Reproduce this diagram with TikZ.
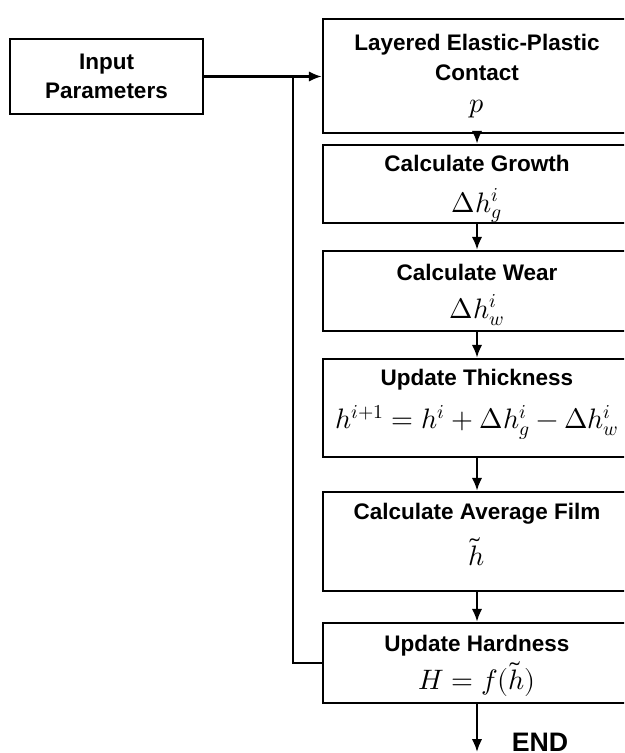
\documentclass[tikz,border=0pt]{standalone}
\usepackage{amsmath}
\usepackage{fontspec}
\usepackage{unicode-math}
\setsansfont{Liberation Sans}
\setmathfont{Latin Modern Math}
\usetikzlibrary{arrows.meta}

\newcommand{\bigmath}[1]{{\fontsize{20}{22}\selectfont$#1$}}

\begin{document}
\begin{tikzpicture}[
    x=0.025cm, y=-0.025cm,
    box/.style={draw, line width=1.8pt, align=center, inner sep=0pt,
        font=\sffamily\bfseries\fontsize{16}{21}\selectfont},
    step box/.style={box, minimum width=7.7cm},
    flow/.style={line width=1.6pt, -{Latex[length=3.2mm, width=2.6mm]}},
    link/.style={line width=1.8pt}
]

\useasboundingbox (0,0) rectangle (624,753);
\clip (0,0) rectangle (624,753);

% Input
\node[box, minimum width=4.825cm, minimum height=1.875cm] (input) at (106.5,76.5)
    {Input\\Parameters};

% Loop boxes
\node[step box, minimum height=2.85cm] (contact) at (477,76)
    {Layered Elastic-Plastic\\Contact\\[2pt]\bigmath{p}};
\node[step box, minimum height=1.95cm] (growth) at (477,184)
    {\rule{0pt}{18.7pt}Calculate Growth\\[8pt]\bigmath{\Delta h_g^i}};
\node[step box, minimum height=2.0cm] (wear) at (477,291)
    {\rule{0pt}{16.7pt}Calculate Wear\\[6pt]\bigmath{\Delta h_w^i}};
\node[step box, minimum height=2.45cm] (thickness) at (477,408)
    {Update Thickness\\[10pt]\bigmath{h^{i+1} = h^i + \Delta h_g^i - \Delta h_w^i}\rule[-13pt]{0pt}{13pt}};
\node[step box, minimum height=2.475cm] (average) at (477,541.5)
    {Calculate Average Film\\[8pt]\bigmath{\tilde{h}}\rule[-10pt]{0pt}{10pt}};
\node[step box, minimum height=2.0cm] (hardness) at (477,663)
    {\rule{0pt}{16pt}Update Hardness\\[3pt]\bigmath{H = f(\tilde{h})}};

% End
\coordinate (finish) at (477,752);
\node[font=\sffamily\bfseries\fontsize{19}{22}\selectfont] (endlabel) at (540,742) {END};

% Connectors
\draw[flow] (input.east) -- (input.east -| contact.west);
\draw[flow] (contact.south) -- (growth.north);
\draw[flow] (growth.south) -- (wear.north);
\draw[flow] (wear.south) -- (thickness.north);
\draw[flow] (thickness.south) -- (average.north);
\draw[flow] (average.south) -- (hardness.north);
\draw[flow] (hardness.south) -- (finish);

% Feedback
\coordinate (loop) at (293,76.5);
\draw[link] (hardness.west) -| (loop);

\end{tikzpicture}
\end{document}
